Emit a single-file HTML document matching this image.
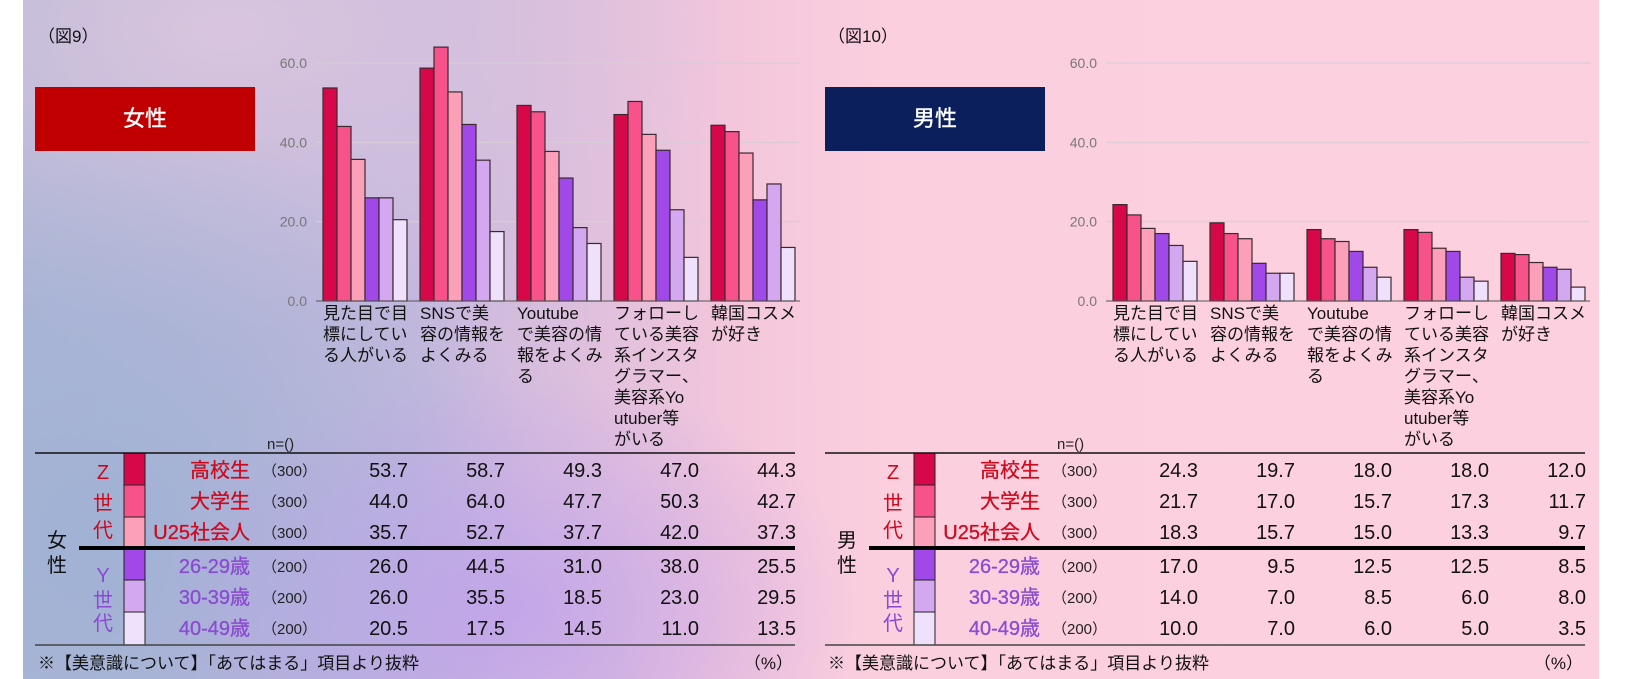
<!DOCTYPE html>
<html><head><meta charset="utf-8">
<style>
html,body{margin:0;padding:0;background:#fff;}
#wrap{position:relative;width:1625px;height:679px;overflow:hidden;background:#fff;}
#bg{position:absolute;left:23px;top:0;width:1576px;height:679px;
background:
radial-gradient(ellipse 360px 240px at 480px 610px, rgba(190,160,235,0.8), rgba(190,160,235,0) 100%),
radial-gradient(ellipse 440px 440px at 80px 540px, rgba(160,178,212,1), rgba(160,178,212,0) 100%),
radial-gradient(ellipse 500px 300px at 200px 30px, rgba(220,198,222,0.9), rgba(220,198,222,0) 100%),
linear-gradient(90deg,#b0b6d6 0%,#c6b8de 25%,#f3c6dc 45%,#fccfde 55%,#fdd0df 100%);}
svg{position:absolute;left:0;top:0;}
</style></head>
<body><div id="wrap"><div id="bg"></div>
<svg id="s" width="1625" height="679" xmlns="http://www.w3.org/2000/svg" font-family="'Liberation Sans','Noto Sans CJK JP',sans-serif"></svg>
</div>
<script>
const S=document.getElementById('s');let h='';
const F=[[53.7,58.7,49.3,47.0,44.3],[44.0,64.0,47.7,50.3,42.7],[35.7,52.7,37.7,42.0,37.3],[26.0,44.5,31.0,38.0,25.5],[26.0,35.5,18.5,23.0,29.5],[20.5,17.5,14.5,11.0,13.5]];
const M=[[24.3,19.7,18.0,18.0,12.0],[21.7,17.0,15.7,17.3,11.7],[18.3,15.7,15.0,13.3,9.7],[17.0,9.5,12.5,12.5,8.5],[14.0,7.0,8.5,6.0,8.0],[10.0,7.0,6.0,5.0,3.5]];
const C=['#d6084a','#f7538a','#fba0b8','#a048e8','#d3a8f0','#efe0fb'];
const cats=[['見た目で目','標にしてい','る人がいる'],['SNSで美','容の情報を','よくみる'],['Youtube','で美容の情','報をよくみ','る'],['フォローし','ている美容','系インスタ','グラマー、','美容系Yo','utuber等','がいる'],['韓国コスメ','が好き']];
const rows=['高校生','大学生','U25社会人','26-29歳','30-39歳','40-49歳'];
const ns=['（300）','（300）','（300）','（200）','（200）','（200）'];
const rc=[470,501,532,566,597,628];
function panel(o,D,title,fig,boxc,sex){
 h+=`<text x="${o+38}" y="42" font-size="17" fill="#111">${fig}</text>`;
 h+=`<rect x="${o+35}" y="87" width="220" height="64" fill="${boxc}"/>`;
 h+=`<text x="${o+145}" y="126" font-size="22" fill="#fff" stroke="#fff" stroke-width="0.4" text-anchor="middle">${title}</text>`;
 [60,40,20].forEach(v=>{const y=301-v*3.967;h+=`<line x1="${o+316}" y1="${y}" x2="${o+800}" y2="${y}" stroke="rgba(215,205,215,0.8)" stroke-width="1.5"/>`;});
 [60,40,20,0].forEach(v=>{const y=301-v*3.967;h+=`<text x="${o+307}" y="${y+5}" font-size="14" fill="#777" text-anchor="end">${v.toFixed(1)}</text>`;});
 for(let g=0;g<5;g++){const x0=o+323+g*97;
  for(let i=0;i<6;i++){const v=D[i][g],hh=v*3.967;
   h+=`<rect x="${x0+i*14}" y="${301-hh}" width="14" height="${hh}" fill="${C[i]}" stroke="#3a2a30" stroke-width="1.2"/>`;}
  cats[g].forEach((t,k)=>{h+=`<text x="${x0}" y="${319+k*21}" font-size="17" fill="#111">${t}</text>`;});
  for(let r=0;r<6;r++){h+=`<text x="${x0+85}" y="${rc[r]+7}" font-size="20" fill="#111" text-anchor="end">${D[r][g].toFixed(1)}</text>`;}
 }
 h+=`<line x1="${o+316}" y1="301" x2="${o+800}" y2="301" stroke="#555" stroke-width="1"/>`;
 h+=`<text x="${o+267}" y="449" font-size="15" fill="#222">n=()</text>`;
 const segs=[453,485,517,548,580,612,645];
 for(let i=0;i<6;i++){h+=`<rect x="${o+124}" y="${segs[i]}" width="21" height="${segs[i+1]-segs[i]}" fill="${C[i]}" stroke="#222" stroke-width="1"/>`;}
 for(let r=0;r<6;r++){const col=r<3?'#cc0a1e':'#8a4bd0';
  h+=`<text x="${o+250}" y="${rc[r]+7}" font-size="20" fill="${col}" stroke="${col}" stroke-width="0.3" text-anchor="end">${rows[r]}</text>`;
  h+=`<text x="${o+262}" y="${rc[r]+6}" font-size="15" fill="#222">${ns[r]}</text>`;}
 [['Z',472],['世',503],['代',530]].forEach(a=>{h+=`<text x="${o+103}" y="${a[1]+7}" font-size="20" fill="#cc0a1e" text-anchor="middle">${a[0]}</text>`;});
 [['Y',575],['世',600],['代',623]].forEach(a=>{h+=`<text x="${o+103}" y="${a[1]+7}" font-size="20" fill="#8a4bd0" text-anchor="middle">${a[0]}</text>`;});
 h+=`<text x="${o+57}" y="547" font-size="20" fill="#111" text-anchor="middle">${sex[0]}</text>`;
 h+=`<text x="${o+57}" y="572" font-size="20" fill="#111" text-anchor="middle">${sex[1]}</text>`;
 h+=`<line x1="${o+35}" y1="453" x2="${o+795}" y2="453" stroke="#111" stroke-width="1.5"/>`;
 h+=`<line x1="${o+79}" y1="548" x2="${o+795}" y2="548" stroke="#000" stroke-width="4"/>`;
 h+=`<line x1="${o+35}" y1="645" x2="${o+795}" y2="645" stroke="#444" stroke-width="1.5"/>`;
 h+=`<text x="${o+38}" y="669" font-size="17" fill="#111">※【美意識について】「あてはまる」項目より抜粋</text>`;
 h+=`<text x="${o+793}" y="669" font-size="17" fill="#111" text-anchor="end">（%）</text>`;
}
panel(0,F,'女性','（図9）','#c00000',['女','性']);
panel(790,M,'男性','（図10）','#0a1f5c',['男','性']);
S.innerHTML=h;
</script>
</body></html>
